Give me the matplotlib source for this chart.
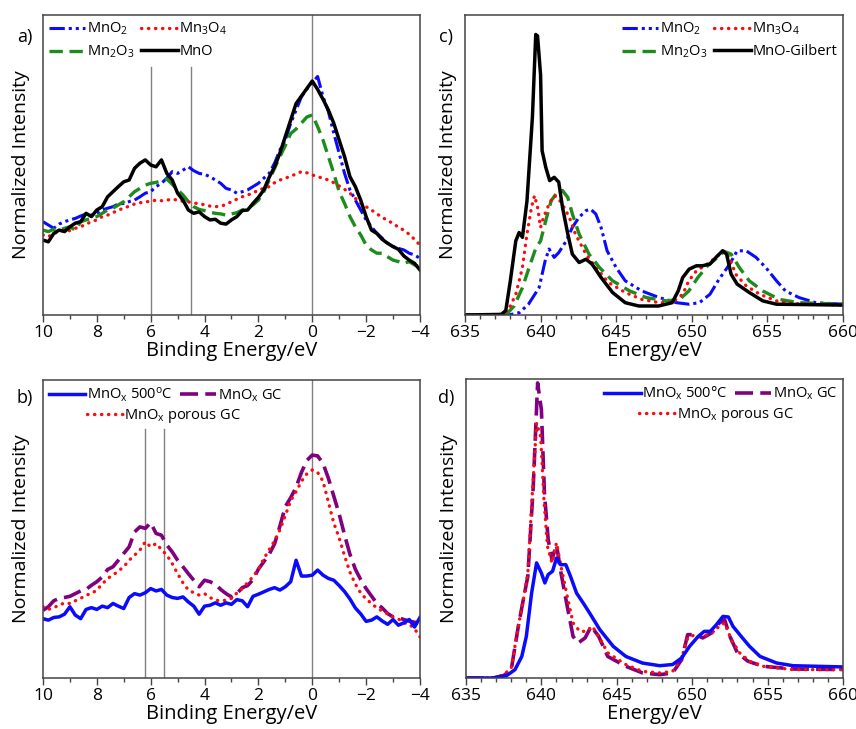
import numpy as np
import matplotlib
matplotlib.use("Agg")
import matplotlib.pyplot as plt
from matplotlib.ticker import MultipleLocator

plt.rcParams['font.family'] = ['Open Sans', 'DejaVu Sans']
plt.rcParams['mathtext.default'] = 'regular'

# ---------------- data (intensity in % of the plot height) ----------------
# panels a/b share one binding-energy grid: 10 eV down to -4 eV, 0.2 eV step
be = np.round(np.arange(10.0, -4.01, -0.2), 1)

a_mno2 = [31.1, 30.0, 28.9, 30.3, 31.1, 31.7, 32.2, 33.0, 33.7, 33.3,
          33.9, 35.0, 35.6, 36.1, 37.0, 37.2, 37.8, 38.3, 39.4, 40.6,
          41.1, 42.8, 43.9, 45.6, 47.8, 47.2, 48.3, 49.4, 48.1, 47.2,
          46.9, 46.1, 45.0, 43.9, 42.2, 41.7, 40.6, 41.1, 41.7, 42.8,
          43.9, 45.6, 47.2, 50.6, 55.0, 58.3, 63.9, 68.3, 72.8, 75.3,
          77.5, 79.5, 72.8, 67.8, 60.6, 53.9, 47.2, 41.7, 38.3, 35.0,
          31.7, 29.4, 27.2, 25.6, 23.9, 22.8, 22.2, 21.7, 20.6, 20.0, 18.9]
a_mn3o4 = [26.7, 26.1, 27.2, 27.8, 28.3, 28.1, 28.9, 29.4, 30.3, 31.1,
           31.7, 32.8, 33.3, 34.1, 35.0, 35.6, 36.3, 37.0, 37.4, 37.7,
           37.9, 38.3, 38.1, 38.3, 38.6, 38.3, 37.9, 37.7, 37.4, 37.0,
           36.8, 36.3, 36.1, 36.3, 36.8, 37.8, 38.6, 39.4, 40.0, 40.6,
           41.7, 42.2, 42.8, 44.1, 45.0, 45.6, 46.3, 47.0, 47.8, 47.4,
           46.7, 46.1, 45.6, 45.0, 44.1, 43.0, 41.9, 40.6, 38.9, 37.2,
           36.1, 35.0, 33.7, 32.6, 31.4, 30.6, 29.2, 28.3, 26.9, 25.2, 23.3]
a_mn2o3 = [28.3, 27.8, 28.6, 28.3, 28.9, 29.4, 28.3, 31.1, 31.7, 32.2,
           32.8, 33.9, 35.0, 35.6, 36.7, 37.8, 39.4, 41.1, 42.2, 43.3,
           43.9, 44.2, 44.8, 45.3, 43.6, 41.7, 40.0, 37.8, 36.1, 35.2,
           34.8, 34.3, 33.9, 33.7, 33.3, 33.7, 34.1, 35.0, 35.6, 36.7,
           38.3, 41.1, 45.0, 48.9, 52.8, 56.5, 60.5, 62.0, 64.0, 66.0,
           66.7, 62.8, 58.3, 52.8, 47.2, 41.1, 37.2, 32.8, 29.4, 26.7,
           23.3, 21.7, 20.6, 20.6, 19.4, 18.3, 17.8, 17.2, 17.8, 16.7, 16.1]
a_mno = [25.0, 24.4, 27.2, 28.3, 27.8, 29.4, 30.6, 31.1, 33.9, 32.8,
         35.0, 36.1, 39.4, 41.1, 42.8, 44.4, 45.0, 48.9, 50.6, 51.7,
         50.0, 49.4, 51.7, 47.2, 45.0, 40.6, 38.3, 35.0, 33.9, 34.4,
         32.8, 31.7, 31.9, 30.6, 30.3, 31.7, 32.8, 34.8, 35.0, 37.2,
         39.2, 41.7, 45.9, 49.4, 54.0, 59.5, 65.0, 70.5, 73.0, 75.5,
         78.0, 75.2, 71.9, 68.3, 63.9, 58.3, 52.8, 46.1, 42.8, 38.3,
         32.8, 28.3, 27.2, 25.2, 23.9, 22.8, 21.9, 19.7, 18.3, 17.2, 15.0]

b_500 = [19.9, 19.4, 20.3, 20.5, 21.4, 23.9, 21.1, 19.9, 23.0, 23.6,
         23.0, 24.1, 23.6, 25.0, 24.1, 23.3, 27.0, 28.3, 27.8, 28.6,
         30.0, 29.2, 29.7, 27.8, 27.0, 26.7, 27.2, 25.5, 24.1, 21.4,
         24.1, 24.4, 25.2, 24.4, 25.2, 24.7, 26.3, 25.9, 23.9, 27.4,
         28.1, 28.9, 29.7, 30.3, 29.5, 30.6, 32.3, 39.5, 34.2, 34.2,
         34.5, 36.2, 34.5, 33.4, 32.8, 31.0, 29.0, 26.5, 23.5, 21.5,
         19.0, 19.4, 20.5, 19.1, 18.0, 19.6, 17.7, 18.5, 19.6, 17.1, 20.3]
b_gc = [22.7, 23.9, 25.9, 26.7, 27.0, 27.4, 28.3, 29.2, 29.7, 31.1,
        32.3, 33.9, 36.4, 37.3, 39.5, 41.8, 44.0, 49.0, 50.7, 50.2,
        52.1, 48.5, 47.9, 44.6, 42.3, 39.5, 37.3, 35.0, 32.8, 30.6,
        32.8, 32.3, 31.5, 29.7, 28.3, 27.2, 28.3, 30.3, 31.0, 33.0,
        36.5, 39.0, 41.5, 45.0, 51.0, 57.5, 60.5, 64.0, 69.0, 73.0,
        74.8, 74.5, 72.0, 67.0, 61.0, 55.0, 48.0, 41.5, 36.5, 33.0,
        30.0, 27.5, 25.0, 23.5, 21.6, 20.5, 20.3, 19.6, 19.1, 18.7, 18.3]
b_porous = [23.9, 23.0, 23.6, 24.4, 25.2, 25.0, 25.9, 26.7, 27.8, 28.3,
            29.5, 31.5, 33.4, 34.5, 35.9, 37.3, 39.5, 41.2, 42.9, 45.7,
            44.0, 45.1, 43.1, 41.2, 38.4, 35.0, 31.9, 29.5, 28.6, 27.8,
            28.3, 27.0, 26.1, 25.9, 26.1, 26.7, 28.5, 30.0, 32.0, 34.0,
            36.5, 40.0, 43.0, 46.0, 49.7, 54.5, 59.5, 62.5, 66.0, 68.5,
            69.8, 69.0, 66.0, 59.0, 52.0, 47.0, 41.0, 35.5, 31.5, 28.5,
            26.5, 25.0, 23.5, 22.5, 21.5, 20.5, 19.8, 18.5, 18.0, 16.5, 13.8]

# panel c: Mn L-edge reference spectra
c_mno2_x = [635, 637.9, 638.6, 639.2, 639.9, 640.3, 640.56, 640.9, 641.2, 641.7,
            642.1, 642.55, 643.0, 643.3, 643.65, 644.0, 644.4, 645.0, 645.6, 646.7,
            647.85, 649.0, 649.8, 650.5, 651.2, 651.8, 652.5, 653.0, 653.6, 654.25,
            654.9, 655.6, 656.2, 657.1, 658.2, 660]
c_mno2_y = [0, 0, 0.8, 3.6, 9.1, 18.0, 22.0, 19.2, 20.8, 24.7,
            29.2, 32.6, 34.8, 35.3, 33.7, 29.2, 21.4, 15.8, 11.4, 8.0,
            5.8, 4.1, 3.6, 4.1, 6.9, 11.9, 16.9, 21.4, 21.4, 19.2,
            15.8, 11.4, 8.0, 5.8, 4.1, 3.6]
c_mn3o4_x = [635, 637.5, 637.9, 638.36, 638.8, 639.1, 639.4, 639.6, 639.8, 640.0,
             640.2, 640.56, 640.9, 641.2, 641.55, 641.9, 642.3, 643.0, 643.65, 644.5,
             645.6, 646.7, 647.85, 648.7, 649.4, 649.8, 650.3, 651.0, 651.6, 652.04,
             652.5, 652.9, 653.6, 654.5, 655.6, 656.7, 660]
c_mn3o4_y = [0, 0.2, 1.9, 6.9, 15.8, 27.0, 35.9, 39.8, 35.9, 29.2,
             32.6, 37.0, 39.8, 38.7, 35.9, 32.6, 27.0, 20.3, 15.8, 10.8,
             7.5, 5.2, 4.1, 4.1, 6.9, 11.4, 14.7, 16.9, 19.2, 21.4,
             19.2, 13.6, 9.7, 6.9, 4.7, 3.8, 3.3]
c_mn2o3_x = [635, 637.7, 638.25, 638.8, 639.24, 639.7, 640.0, 640.34, 640.7, 641.1,
             641.45, 641.8, 642.1, 642.55, 643.2, 643.9, 644.76, 645.9, 647.0, 648.3,
             649.2, 649.8, 650.4, 651.05, 651.7, 652.15, 652.6, 653.15, 653.8, 654.7,
             655.8, 657.1, 660]
c_mn2o3_y = [0, 0, 3.0, 9.1, 15.8, 22.5, 24.7, 31.4, 38.1, 40.9,
             41.5, 39.2, 33.7, 27.0, 20.3, 15.8, 11.4, 8.0, 5.8, 4.7,
             5.2, 8.0, 12.5, 16.4, 19.2, 21.2, 20.3, 15.8, 11.4, 8.0,
             5.2, 4.1, 3.6]
c_mno_x = [635, 637.4, 637.7, 638.0, 638.36, 638.58, 638.8, 639.1, 639.46, 639.68,
           639.8, 640.0, 640.1, 640.34, 640.6, 640.9, 641.2, 641.45, 641.8, 642.1,
           642.55, 643.0, 643.4, 644.0, 644.76, 645.6, 646.5, 647.8, 648.7, 649.1,
           649.4, 649.83, 650.3, 650.7, 651.2, 651.6, 652.04, 652.3, 652.6, 653.0,
           653.8, 654.7, 655.6, 660]
c_mno_y = [0, 0.2, 1.5, 11.4, 24.7, 27.5, 25.9, 38.0, 66.0, 93.5,
           93.0, 80.0, 54.8, 49.3, 44.8, 45.9, 44.3, 35.9, 27.0, 20.3,
           17.5, 18.6, 17.0, 12.5, 7.5, 4.1, 3.0, 3.0, 4.1, 8.0,
           12.5, 15.3, 16.4, 16.4, 17.0, 19.2, 21.4, 20.3, 13.6, 10.3,
           7.5, 4.7, 3.6, 3.3]

# panel d: Mn L-edge of the MnOx samples
d_500_x = [635, 636.8, 637.7, 638.25, 638.7, 639.0, 639.35, 639.68, 640.0, 640.23,
           640.45, 640.74, 641.0, 641.27, 641.62, 641.93, 642.33, 642.77, 643.2, 643.87,
           644.76, 645.6, 646.7, 647.85, 648.7, 649.3, 649.83, 650.4, 650.8, 651.2,
           651.6, 652.04, 652.4, 652.7, 653.25, 653.8, 654.5, 655.6, 656.7, 660]
d_500_y = [0, 0, 0.8, 2.8, 7.2, 13.9, 28.4, 38.5, 35.1, 31.8,
           34.6, 35.7, 40.1, 37.9, 37.9, 34.0, 28.4, 25.1, 21.7, 16.2,
           10.6, 7.2, 5.0, 4.1, 4.5, 6.7, 10.6, 13.9, 15.6, 15.6,
           17.8, 20.6, 20.4, 17.3, 13.9, 10.6, 7.2, 5.0, 4.1, 3.7]
d_gc_x = [635, 636.8, 637.5, 638.0, 638.47, 638.8, 639.1, 639.46, 639.75, 640.0,
          640.2, 640.45, 640.7, 641.0, 641.3, 641.67, 642.1, 642.44, 642.9, 643.3,
          643.8, 644.4, 645.6, 646.7, 647.85, 648.7, 649.3, 649.7, 650.2, 650.7,
          651.3, 651.8, 652.15, 652.5, 653.0, 653.7, 654.7, 656.7, 660]
d_gc_y = [0, 0, 0.8, 2.8, 17.3, 26.2, 34.0, 64.1, 98.7, 89.7,
          61.9, 46.3, 39.6, 44.6, 35.1, 25.1, 13.9, 11.7, 13.4, 17.3,
          13.9, 7.2, 3.9, 1.7, 1.1, 1.7, 6.1, 14.5, 14.5, 13.4,
          15.1, 18.4, 19.5, 13.9, 8.4, 5.6, 3.9, 3.0, 2.8]
d_porous_x = [635, 636.8, 637.5, 638.0, 638.47, 638.8, 639.1, 639.4, 639.68, 639.95,
              640.17, 640.4, 640.7, 641.0, 641.3, 641.67, 642.1, 642.55, 643.0, 643.37,
              643.8, 644.4, 645.6, 646.7, 647.85, 648.7, 649.3, 649.7, 650.2, 650.7,
              651.3, 651.8, 652.15, 652.6, 653.15, 653.8, 654.7, 656.7, 660]
d_porous_y = [0, 0, 1.1, 3.3, 17.3, 26.2, 35.1, 61.9, 85.3, 80.8,
              59.6, 44.0, 38.5, 45.2, 37.3, 28.4, 18.4, 15.6, 15.6, 17.3,
              13.9, 8.4, 4.5, 2.2, 1.7, 2.2, 6.7, 13.4, 14.5, 13.9,
              15.1, 17.3, 18.4, 12.8, 8.4, 5.6, 3.9, 2.8, 2.8]

# ---------------- styles ----------------
BLUE, RED, GREEN, PURPLE = '#0a0aff', '#ff0a0a', '#1c8c1c', '#800080'
DASHDOTDOT = (0, (5, 1.3, 1, 1.3, 1, 1.3))
DOTS = (0, (0.1, 2.0))
DASH = (0, (4, 2))
LONGDASH = (0, (5, 2))


def style_axes(ax, xlim, major, minor, xlabel, ylabelpad):
    ax.set_xlim(*xlim)
    ax.set_ylim(0, 100)
    ax.set_yticks([])
    ax.xaxis.set_major_locator(MultipleLocator(major))
    ax.xaxis.set_minor_locator(MultipleLocator(minor))
    ax.tick_params(axis='x', which='major', direction='out', length=5, width=1,
                   labelsize=12.5, pad=2, top=False, color='#444444')
    ax.tick_params(axis='x', which='minor', direction='out', length=3, width=1,
                   top=False, color='#444444')
    for s in ax.spines.values():
        s.set_color('#444444')
        s.set_linewidth(1.1)
    ax.set_xlabel(xlabel, fontsize=14.5, labelpad=0)
    ax.set_ylabel('Normalized Intensity', fontsize=14, labelpad=ylabelpad)


def legend_kw():
    return dict(frameon=False, fontsize=10.5, handlelength=2.5, handletextpad=0.1,
                columnspacing=0.5, labelspacing=0.45, borderaxespad=0.2, borderpad=0.2)


fig = plt.figure(figsize=(8.56, 7.29), dpi=100)
ax_a = fig.add_axes([0.0502, 0.5679, 0.4404, 0.4115])
ax_c = fig.add_axes([0.5432, 0.5679, 0.4416, 0.4115])
ax_b = fig.add_axes([0.0502, 0.0700, 0.4404, 0.4088])
ax_d = fig.add_axes([0.5444, 0.0700, 0.4404, 0.4100])

# ---- a) valence band reference oxides
ax_a.axvline(6, ymax=0.827, color='#808080', lw=1)
ax_a.axvline(4.5, ymax=0.827, color='#808080', lw=1)
ax_a.axvline(0, color='#808080', lw=1)
la1, = ax_a.plot(be, a_mno2, color=BLUE, lw=2.2, ls=DASHDOTDOT, label='MnO$_2$')
la2, = ax_a.plot(be, a_mn2o3, color=GREEN, lw=2.4, ls=DASH, label='Mn$_2$O$_3$')
la3, = ax_a.plot(be, a_mn3o4, color=RED, lw=2.4, ls=DOTS, dash_capstyle='round',
                 label='Mn$_3$O$_4$')
la4, = ax_a.plot(be, a_mno, color='black', lw=2.5, label='MnO')
style_axes(ax_a, (10, -4), 2, 1, 'Binding Energy/eV', 9)
ax_a.legend(handles=[la1, la2, la3, la4], loc='upper left', ncol=2, **legend_kw())

# ---- c) L-edge reference oxides
lc1, = ax_c.plot(c_mno2_x, c_mno2_y, color=BLUE, lw=2.2, ls=DASHDOTDOT, label='MnO$_2$')
lc2, = ax_c.plot(c_mn2o3_x, c_mn2o3_y, color=GREEN, lw=2.4, ls=DASH, label='Mn$_2$O$_3$')
lc3, = ax_c.plot(c_mn3o4_x, c_mn3o4_y, color=RED, lw=2.4, ls=DOTS, dash_capstyle='round',
                 label='Mn$_3$O$_4$')
lc4, = ax_c.plot(c_mno_x, c_mno_y, color='black', lw=2.5, label='MnO-Gilbert')
style_axes(ax_c, (635, 660), 5, 1, 'Energy/eV', 6)
ax_c.legend(handles=[lc1, lc2, lc3, lc4], loc='upper right', ncol=2, **legend_kw())

# ---- b) valence band MnOx samples
ax_b.axvline(6.2, ymax=0.836, color='#808080', lw=1)
ax_b.axvline(5.5, ymax=0.836, color='#808080', lw=1)
ax_b.axvline(0, color='#808080', lw=1)
lb2, = ax_b.plot(be, b_gc, color=PURPLE, lw=2.6, ls=LONGDASH, label='MnO$_x$ GC')
lb3, = ax_b.plot(be, b_porous, color=RED, lw=2.4, ls=DOTS, dash_capstyle='round',
                 label='MnO$_x$ porous GC')
lb1, = ax_b.plot(be, b_500, color=BLUE, lw=2.5, label='MnO$_x$ 500$^o$C')
style_axes(ax_b, (10, -4), 2, 1, 'Binding Energy/eV', 9)
leg_b = ax_b.legend(handles=[lb1, lb2], loc='upper left', ncol=2, **legend_kw())
ax_b.add_artist(leg_b)
ax_b.legend(handles=[lb3], loc='upper left', bbox_to_anchor=(0.1, 0.93), **legend_kw())

# ---- d) L-edge MnOx samples
ld2, = ax_d.plot(d_gc_x, d_gc_y, color=PURPLE, lw=2.6, ls=LONGDASH, label='MnO$_x$ GC')
ld3, = ax_d.plot(d_porous_x, d_porous_y, color=RED, lw=2.4, ls=DOTS, dash_capstyle='round',
                 label='MnO$_x$ porous GC')
ld1, = ax_d.plot(d_500_x, d_500_y, color=BLUE, lw=2.5, label='MnO$_x$ 500°C')
style_axes(ax_d, (635, 660), 5, 1, 'Energy/eV', 6)
leg_d = ax_d.legend(handles=[ld1, ld2], loc='upper right', ncol=2, **legend_kw())
ax_d.add_artist(leg_d)
ax_d.legend(handles=[ld3], loc='upper right', bbox_to_anchor=(0.885, 0.93), **legend_kw())

# panel letters
for txt, x, y in [('a)', 25, 37), ('c)', 446, 37), ('b)', 25, 398), ('d)', 446, 398)]:
    fig.text(x / 856, 1 - y / 729, txt, fontsize=13, ha='center', va='center')

fig.savefig('out.png', dpi=100)
